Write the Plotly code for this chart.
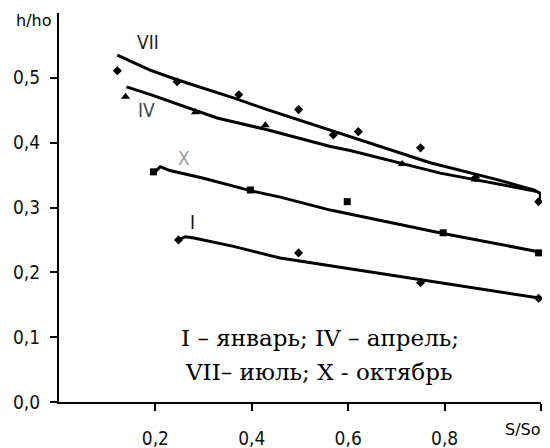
import plotly.graph_objects as go

# ---- data ----
# measured points
vii_x = [0.121, 0.245, 0.373, 0.497, 0.569, 0.621, 0.75, 0.864, 0.995]
vii_y = [0.511, 0.494, 0.474, 0.451, 0.412, 0.417, 0.392, 0.346, 0.309]
iv_x = [0.138, 0.283, 0.428, 0.712, 0.864]
iv_y = [0.471, 0.447, 0.427, 0.367, 0.343]
x_x = [0.196, 0.397, 0.598, 0.797, 0.995]
x_y = [0.355, 0.327, 0.309, 0.261, 0.230]
i_x = [0.248, 0.497, 0.75, 0.995]
i_y = [0.250, 0.230, 0.184, 0.160]

# fitted curves
vii_line_x = [0.121, 0.189, 0.245, 0.362, 0.432, 0.549, 0.60, 0.77, 0.909, 0.985, 0.998, 1.0]
vii_line_y = [0.535, 0.512, 0.497, 0.469, 0.451, 0.423, 0.410, 0.369, 0.343, 0.327, 0.322, 0.310]
iv_line_x = [0.140, 0.19, 0.328, 0.432, 0.563, 0.604, 0.791, 0.839, 0.99]
iv_line_y = [0.486, 0.474, 0.438, 0.420, 0.394, 0.388, 0.353, 0.346, 0.325]
x_line_x = [0.196, 0.21, 0.23, 0.30, 0.397, 0.459, 0.563, 0.797, 1.0]
x_line_y = [0.352, 0.363, 0.357, 0.345, 0.326, 0.316, 0.296, 0.260, 0.231]
i_line_x = [0.248, 0.262, 0.28, 0.362, 0.459, 0.528, 0.75, 1.0]
i_line_y = [0.250, 0.255, 0.253, 0.240, 0.222, 0.214, 0.188, 0.160]

x_tickvals = [0.2, 0.4, 0.6, 0.8, 1.0]
x_ticktext = ["0,2", "0,4", "0,6", "0,8", ""]
y_tickvals = [0.0, 0.1, 0.2, 0.3, 0.4, 0.5]
y_ticktext = ["0,0", "0,1", "0,2", "0,3", "0,4", "0,5"]

curve_labels = ["VII", "IV", "X", "I"]
label_x = [0.185, 0.181, 0.26, 0.277]
label_y = [0.556, 0.451, 0.377, 0.278]
label_colors = ["#222222", "#444444", "#999999", "#111111"]

legend_lines = ["I – январь; IV – апрель;", "VII– июль; X - октябрь"]

SANS = "Liberation Sans Narrow, DejaVu Sans Condensed, Arial Narrow, sans-serif"
SERIF = "DejaVu Serif, Liberation Serif, serif"
WIDE = "DejaVu Sans, Liberation Sans, sans-serif"

fig = go.Figure()
for lx, ly in [(vii_line_x, vii_line_y), (iv_line_x, iv_line_y), (x_line_x, x_line_y), (i_line_x, i_line_y)]:
    fig.add_trace(go.Scatter(x=lx, y=ly, mode="lines", line=dict(color="black", width=3),
                             showlegend=False, hoverinfo="skip", cliponaxis=False))
for px, py, sym, sz in [(vii_x, vii_y, "diamond", 7), (iv_x, iv_y, "triangle-up", 8),
                        (x_x, x_y, "square", 7), (i_x, i_y, "diamond", 7)]:
    fig.add_trace(go.Scatter(x=px, y=py, mode="markers",
                             marker=dict(symbol=sym, size=sz, color="black"),
                             showlegend=False, cliponaxis=False))

for t, lx, ly, c in zip(curve_labels, label_x, label_y, label_colors):
    fig.add_annotation(x=lx, y=ly, xref="x", yref="y", text=t, showarrow=False,
                       xanchor="center", yanchor="middle",
                       font=dict(family=SANS, size=19, color=c))

fig.add_annotation(x=0.542, y=0.0988, xref="x", yref="y", text=legend_lines[0], showarrow=False,
                   xanchor="center", yanchor="middle",
                   font=dict(family=SERIF, size=23, color="black"))
fig.add_annotation(x=0.538, y=0.046, xref="x", yref="y", text=legend_lines[1], showarrow=False,
                   xanchor="center", yanchor="middle",
                   font=dict(family=SERIF, size=23, color="black"))

fig.add_annotation(x=(33 - 59) / 482, y=0.588, xref="paper", yref="y", text="h/ho", showarrow=False,
                   xanchor="center", yanchor="middle",
                   font=dict(family=WIDE, size=16, color="black"))
fig.add_annotation(x=0.963, y=-0.043 / 0.6, xref="paper", yref="paper", text="S/So", showarrow=False,
                   xanchor="center", yanchor="middle",
                   font=dict(family=WIDE, size=16, color="black"))

# page body has an 8px default margin, so the figure is 8px smaller on each side
fig.update_layout(
    width=542, height=440,
    margin=dict(l=51, r=9, t=5, b=46, autoexpand=False),
    paper_bgcolor="white", plot_bgcolor="white",
    showlegend=False,
    xaxis=dict(range=[0, 1], showgrid=False, zeroline=False, showline=True, linecolor="black",
               linewidth=2, ticks="outside", ticklen=7, tickwidth=2, tickcolor="black",
               tickvals=x_tickvals, ticktext=x_ticktext, ticklabelstandoff=11, automargin=False,
               tickfont=dict(family=SANS, size=19, color="#111111")),
    yaxis=dict(range=[0, 0.6], showgrid=False, zeroline=False, showline=True, linecolor="black",
               linewidth=2, ticks="outside", ticklen=7, tickwidth=2, tickcolor="black",
               tickvals=y_tickvals, ticktext=y_ticktext, ticklabelstandoff=6, automargin=False,
               tickfont=dict(family=SANS, size=19, color="#111111")),
)

fig.write_html("out.html")
